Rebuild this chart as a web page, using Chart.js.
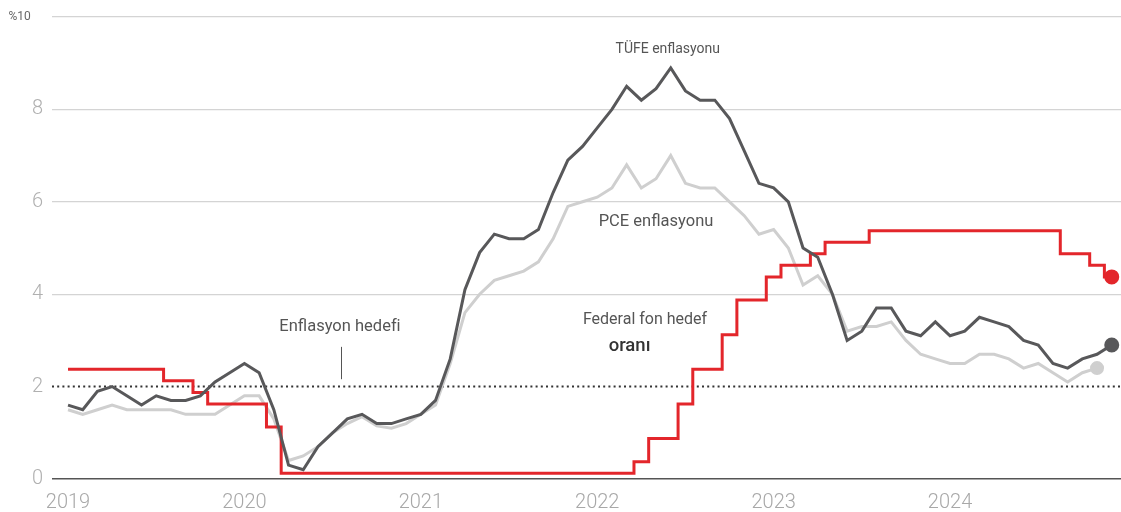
<!DOCTYPE html>
<html lang="tr">
<head>
<meta charset="utf-8">
<title>Enflasyon ve Fed faizi</title>
<script src="https://cdn.jsdelivr.net/npm/chart.js@4.4.1/dist/chart.umd.min.js"></script>
<style>
  html, body { margin: 0; padding: 0; background: #fff; }
  #wrap { position: relative; width: 1121px; height: 512px; }
</style>
</head>
<body>
<div id="wrap"><canvas id="rateChart"></canvas></div>
<script>
// x ekseni: aylik sira no, 0 = Ocak 2019
var years = ['2019', '2020', '2021', '2022', '2023', '2024'];
var yTicks = [0, 2, 4, 6, 8, 10];

// TÜFE yillik enflasyon (%), Oca 2019 - Ara 2024
var cpi = [
    1.6, 1.5, 1.9, 2.0, 1.8, 1.6, 1.8, 1.7, 1.7, 1.8, 2.1, 2.3,
    2.5, 2.3, 1.5, 0.3, 0.2, 0.7, 1.0, 1.3, 1.4, 1.2, 1.2, 1.3,
    1.4, 1.7, 2.6, 4.1, 4.9, 5.3, 5.2, 5.2, 5.4, 6.2, 6.9, 7.2,
    7.6, 8.0, 8.5, 8.2, 8.45, 8.9, 8.4, 8.2, 8.2, 7.8, 7.1, 6.4,
    6.3, 6.0, 5.0, 4.8, 4.0, 3.0, 3.2, 3.7, 3.7, 3.2, 3.1, 3.4,
    3.1, 3.2, 3.5, 3.4, 3.3, 3.0, 2.9, 2.5, 2.4, 2.6, 2.7, 2.9
];

// PCE yillik enflasyon (%), Oca 2019 - Kas 2024
var pce = [
    1.5, 1.4, 1.5, 1.6, 1.5, 1.5, 1.5, 1.5, 1.4, 1.4, 1.4, 1.6,
    1.8, 1.8, 1.3, 0.4, 0.5, 0.7, 1.0, 1.2, 1.35, 1.15, 1.1, 1.2,
    1.4, 1.6, 2.5, 3.6, 4.0, 4.3, 4.4, 4.5, 4.7, 5.2, 5.9, 6.0,
    6.1, 6.3, 6.8, 6.3, 6.5, 7.0, 6.4, 6.3, 6.3, 6.0, 5.7, 5.3,
    5.4, 5.0, 4.2, 4.4, 4.0, 3.2, 3.3, 3.3, 3.4, 3.0, 2.7, 2.6,
    2.5, 2.5, 2.7, 2.7, 2.6, 2.4, 2.5, 2.3, 2.1, 2.3, 2.4
];

// Federal fon hedef araligi orta noktasi (%)
var fedRate = [
    2.375, 2.375, 2.375, 2.375, 2.375, 2.375, 2.375, 2.125, 2.125, 1.875, 1.625, 1.625,
    1.625, 1.625, 1.125, 0.125, 0.125, 0.125, 0.125, 0.125, 0.125, 0.125, 0.125, 0.125,
    0.125, 0.125, 0.125, 0.125, 0.125, 0.125, 0.125, 0.125, 0.125, 0.125, 0.125, 0.125,
    0.125, 0.125, 0.125, 0.375, 0.875, 0.875, 1.625, 2.375, 2.375, 3.125, 3.875, 3.875,
    4.375, 4.625, 4.625, 4.875, 5.125, 5.125, 5.125, 5.375, 5.375, 5.375, 5.375, 5.375,
    5.375, 5.375, 5.375, 5.375, 5.375, 5.375, 5.375, 5.375, 4.875, 4.875, 4.625, 4.375
];

var inflationTarget = 2;

var xMin = -1.09;
var xMax = 71.63;

// grafik uzerindeki yazilar (ay, deger cinsinden)
var notes = [
    { text: 'TÜFE enflasyonu', month: 40.8, value: 9.29, size: 14, weight: 400, color: '#555' },
    { text: 'PCE enflasyonu', month: 40.0, value: 5.57, size: 16.5, weight: 400, color: '#555' },
    { text: 'Enflasyon hedefi', month: 18.5, value: 3.29, size: 16.5, weight: 400, color: '#555' },
    { text: 'Federal fon hedef', month: 39.25, value: 3.44, size: 16, weight: 400, color: '#555' },
    { text: 'oranı', month: 38.2, value: 2.86, size: 18.5, weight: 500, color: '#333' }
];

function toPoints(arr) {
    return arr.map(function (v, i) {
        return { x: i, y: v };
    });
}

// sadece son noktada yuvarlak isaret
function lastDot(radius) {
    return function (ctx) {
        return ctx.dataIndex === ctx.dataset.data.length - 1 ? radius : 0;
    };
}

var notesPlugin = {
    id: 'notes',
    afterDatasetsDraw: function (chart) {
        var c = chart.ctx;
        var xs = chart.scales.x;
        var ys = chart.scales.y;
        c.save();

        // hedef yazisinin altindaki kisa cizgi
        var mx = Math.round(xs.getPixelForValue(18.55)) + 0.5;
        c.strokeStyle = '#555';
        c.lineWidth = 1;
        c.beginPath();
        c.moveTo(mx, ys.getPixelForValue(2.86));
        c.lineTo(mx, ys.getPixelForValue(2.16));
        c.stroke();

        c.textAlign = 'center';
        c.textBaseline = 'middle';
        notes.forEach(function (n) {
            c.font = n.weight + ' ' + n.size + 'px Roboto, "Noto Sans", sans-serif';
            c.fillStyle = n.color;
            c.fillText(n.text, xs.getPixelForValue(n.month), ys.getPixelForValue(n.value));
        });
        c.restore();
    }
};

var ctxRate = document.getElementById('rateChart').getContext('2d');
var rateChart = new Chart(ctxRate, {
    type: 'line',
    data: {
        datasets: [{
            label: 'TÜFE enflasyonu',
            data: toPoints(cpi),
            borderColor: '#58585a',
            backgroundColor: '#58585a',
            borderWidth: 3,
            pointRadius: lastDot(6),
            pointHoverRadius: 0,
            tension: 0,
            order: 1
        }, {
            label: 'Federal fon hedef oranı',
            data: toPoints(fedRate),
            borderColor: '#e3262b',
            backgroundColor: '#e3262b',
            borderWidth: 3,
            stepped: 'middle',
            pointRadius: lastDot(6),
            pointHoverRadius: 0,
            order: 2
        }, {
            label: 'PCE enflasyonu',
            data: toPoints(pce),
            borderColor: '#cfcfcf',
            backgroundColor: '#cfcfcf',
            borderWidth: 3,
            pointRadius: lastDot(5.5),
            pointHoverRadius: 0,
            tension: 0,
            order: 3
        }, {
            label: 'Enflasyon hedefi',
            data: [{ x: xMin, y: inflationTarget }, { x: xMax, y: inflationTarget }],
            borderColor: '#333',
            borderWidth: 2,
            borderDash: [2, 3.2],
            borderCapStyle: 'butt',
            pointRadius: 0,
            order: 4
        }]
    },
    options: {
        responsive: true,
        maintainAspectRatio: false,
        animation: false,
        events: [],
        layout: {
            autoPadding: false,
            padding: { top: 17, right: 0, bottom: 0, left: 0 }
        },
        plugins: {
            legend: { display: false },
            tooltip: { enabled: false }
        },
        scales: {
            x: {
                type: 'linear',
                min: xMin,
                max: xMax,
                afterBuildTicks: function (scale) {
                    scale.ticks = years.map(function (y, i) { return { value: i * 12 }; });
                },
                afterFit: function (scale) { scale.height = 33; },
                grid: { display: false, drawTicks: false },
                border: { display: false },
                ticks: {
                    autoSkip: false,
                    maxRotation: 0,
                    padding: 12,
                    color: '#a8a8a8',
                    font: { family: 'Roboto', size: 20, weight: '300' },
                    callback: function (value) { return years[value / 12]; }
                }
            },
            y: {
                min: 0,
                max: 10,
                afterBuildTicks: function (scale) {
                    scale.ticks = yTicks.map(function (v) { return { value: v }; });
                },
                afterFit: function (scale) { scale.width = 52; },
                border: { display: false },
                grid: {
                    drawTicks: false,
                    color: function (ctx) {
                        if (ctx.tick.value === 0) return '#555';
                        if (ctx.tick.value === inflationTarget) return 'rgba(0,0,0,0)';
                        return '#d4d4d4';
                    },
                    lineWidth: function (ctx) {
                        return ctx.tick.value === 0 ? 1.5 : 1.2;
                    }
                },
                ticks: {
                    padding: 9,
                    color: function (ctx) {
                        return ctx.tick.value === 10 ? '#666' : '#b0b0b0';
                    },
                    font: function (ctx) {
                        if (ctx.tick && ctx.tick.value === 10) {
                            return { family: 'Roboto', size: 12, weight: '400' };
                        }
                        return { family: 'Roboto', size: 20, weight: '300' };
                    },
                    callback: function (value) {
                        // ust etiket biraz daha solda duruyor
                        return value === 10 ? '%10\u2003' : value;
                    }
                }
            }
        }
    },
    plugins: [notesPlugin]
});
</script>
</body>
</html>
